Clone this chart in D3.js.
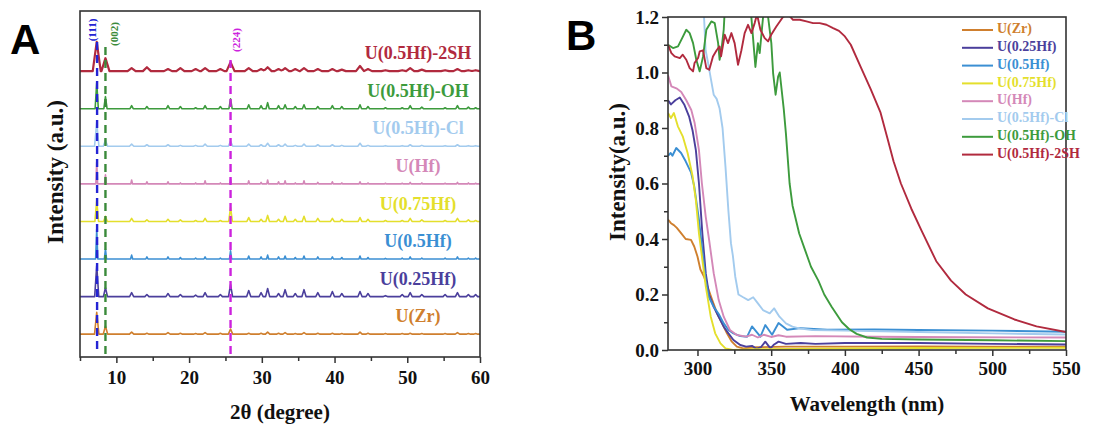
<!DOCTYPE html>
<html><head><meta charset="utf-8">
<script src="https://cdn.jsdelivr.net/npm/d3@7"></script>
<style>
body{margin:0;background:#fff;}
svg text{font-family:"Liberation Serif","Times New Roman",serif !important;font-weight:bold;}
svg text.panel{font-family:"Liberation Sans",Arial,sans-serif !important;}
</style></head><body>
<svg id="c" width="1102" height="425" font-family="Liberation Serif"></svg>
<script>
// ---------- DATA ----------
const seriesNames = ["U(Zr)","U(0.25Hf)","U(0.5Hf)","U(0.75Hf)","U(Hf)","U(0.5Hf)-Cl","U(0.5Hf)-OH","U(0.5Hf)-2SH"];
const seriesColors = ["#cf7f2e","#4b3f9c","#3b8fd3","#e4df2c","#d488b8","#a3cbee","#3d9b3d","#b12a3e"];

// Panel A: XRD peak positions (2θ) and heights per pattern (a.u.)
const peakPos = [7.3, 8.5, 12.1, 14.2, 17.1, 18.8, 20.9, 22.2, 24.3, 25.7, 28.2, 29.9, 30.8, 32.3, 33.2, 34.6, 35.8, 37.7, 39.7, 41.0, 43.5, 44.6, 47.0, 49.3, 50.4, 52.0, 55.2, 56.9, 58.4, 59.4];
const xrdZr    = [73, 27, 7, 3, 5, 3, 2, 5, 3, 17, 3, 3, 7, 3, 5, 2, 5, 3, 3, 2, 7, 3, 2, 2, 3, 2, 2, 5, 2, 2];
const xrd025Hf = [103, 30, 13, 7, 10, 7, 5, 13, 7, 40, 20, 13, 27, 10, 23, 10, 23, 13, 17, 10, 17, 10, 3, 7, 13, 7, 7, 13, 7, 7];
const xrd05Hf  = [100, 33, 13, 7, 7, 5, 3, 7, 3, 27, 10, 7, 13, 7, 10, 5, 10, 7, 7, 5, 10, 5, 2, 3, 7, 3, 3, 7, 3, 3];
const xrd075Hf = [70, 17, 10, 5, 7, 5, 3, 10, 3, 47, 13, 7, 20, 7, 17, 7, 17, 10, 10, 7, 13, 7, 3, 3, 10, 5, 3, 10, 5, 3];
const xrdHf    = [73, 30, 13, 7, 7, 3, 3, 10, 3, 17, 10, 5, 13, 7, 10, 3, 10, 5, 7, 3, 7, 3, 2, 2, 5, 3, 2, 5, 3, 2];
const xrdCl    = [80, 20, 7, 5, 5, 3, 3, 7, 3, 17, 7, 5, 10, 5, 7, 3, 7, 5, 5, 3, 10, 3, 2, 2, 5, 3, 2, 5, 2, 2];
const xrdOH    = [87, 40, 10, 7, 10, 7, 3, 10, 7, 33, 13, 10, 20, 10, 13, 7, 13, 7, 10, 7, 13, 7, 3, 3, 10, 5, 3, 10, 5, 3];
const xrd2SH   = [97, 43, 10, 13, 7, 10, 7, 10, 7, 30, 10, 7, 13, 7, 10, 7, 10, 7, 7, 5, 17, 7, 3, 3, 10, 5, 3, 7, 3, 3];
const refLines = [{pos:7.35, label:"(111)"}, {pos:8.5, label:"(002)"}, {pos:25.7, label:"(224)"}];
const xTicksA = [10,20,30,40,50,60];

// Panel B: UV-vis spectra [wavelength nm, intensity]
const uvZr = [[280,0.47],[282,0.457],[284,0.45],[286,0.44],[289,0.42],[292,0.40],[295.6,0.397],[297.8,0.373],[300,0.337],[302,0.29],[304.4,0.265],[306.7,0.23],[310,0.18],[313.3,0.132],[316.7,0.096],[320,0.06],[323.3,0.03],[326.7,0.012],[331,0.006],[340,0.01],[360,0.012],[400,0.012],[450,0.013],[500,0.012],[550,0.012]];
const uv025Hf = [[280,0.90],[282,0.885],[285,0.90],[288,0.91],[291,0.885],[294.4,0.84],[296.7,0.79],[298.9,0.72],[301,0.6],[303.3,0.42],[305.6,0.277],[307.8,0.2],[311,0.156],[314.4,0.12],[317.8,0.084],[321,0.06],[324.4,0.036],[329,0.018],[333,0.012],[337,0.015],[340,0.004],[343,0.01],[346,0.03],[349.5,0.006],[352,0.02],[355,0.03],[360,0.022],[370,0.025],[380,0.022],[400,0.025],[450,0.025],[500,0.022],[550,0.02]];
const uv05Hf = [[280,0.70],[281.8,0.71],[283,0.70],[285.6,0.728],[288.9,0.71],[292,0.68],[295.6,0.64],[297.8,0.59],[301,0.47],[303.3,0.36],[305.6,0.25],[307.8,0.19],[311,0.156],[314.4,0.13],[317.8,0.096],[321,0.072],[324.4,0.06],[329,0.05],[333.7,0.048],[337,0.085],[342.7,0.048],[346,0.09],[350.6,0.055],[355,0.097],[360.8,0.073],[370,0.079],[388,0.073],[420,0.074],[450,0.072],[500,0.07],[550,0.066]];
const uv075Hf = [[280,0.854],[282,0.836],[284,0.854],[286.7,0.806],[290,0.77],[293.3,0.71],[296.7,0.626],[298.9,0.54],[301,0.42],[303.3,0.325],[305.6,0.23],[309,0.12],[312,0.06],[315.6,0.024],[319,0.006],[324,0.0],[340,0.003],[380,0.005],[450,0.007],[550,0.008]];
const uvHf = [[280,0.99],[282.3,0.95],[285.7,0.943],[289,0.93],[292.4,0.9],[295.8,0.865],[298,0.82],[301,0.72],[303,0.6],[305.6,0.48],[307.8,0.4],[311,0.277],[314.4,0.18],[317.8,0.12],[322,0.072],[326.7,0.054],[333,0.048],[337,0.055],[341,0.045],[345,0.055],[350,0.047],[355,0.053],[360,0.048],[380,0.05],[420,0.048],[480,0.046],[550,0.045]];
const uvCl = [[304,1.25],[305.5,1.08],[307,1.04],[309,0.98],[311,0.92],[313,0.905],[315,0.87],[317,0.80],[319,0.66],[321,0.5],[322.7,0.385],[324,0.34],[325.6,0.265],[327.8,0.2],[331,0.19],[334.4,0.18],[337.8,0.19],[341,0.168],[344.4,0.144],[349,0.132],[352,0.15],[355.6,0.12],[360,0.096],[364.4,0.084],[369,0.078],[377.8,0.072],[400,0.07],[450,0.065],[500,0.06],[550,0.056]];
const uvOH = [[280,1.10],[283.4,1.088],[286.8,1.094],[290.2,1.13],[292.4,1.154],[294.7,1.142],[297,1.106],[299.2,1.046],[301.5,1.004],[303.8,1.058],[306,1.154],[309.4,1.184],[311.7,1.178],[314,1.106],[315,1.046],[316.2,1.08],[317.8,1.154],[318.5,1.226],[320,1.26],[335,1.26],[336.6,1.196],[339.3,1.02],[341,1.106],[342.2,1.07],[344.5,1.2],[346,1.26],[347,1.26],[347.9,1.2],[350.1,1.106],[351.3,0.998],[353,0.92],[354.7,0.985],[355.8,1.0],[358.5,0.87],[360,0.78],[362.5,0.6],[364.5,0.52],[369,0.42],[373,0.36],[377,0.3],[382,0.25],[386,0.2],[391,0.156],[398,0.1],[403,0.075],[408,0.058],[415,0.045],[425,0.04],[450,0.038],[500,0.035],[550,0.032]];
const uv2SH = [[280,1.10],[282.3,1.07],[284.5,1.058],[288,1.052],[290,1.064],[292.4,1.046],[294.7,1.016],[297,1.004],[298,1.034],[300.4,1.052],[301.5,1.076],[303.8,1.08],[306,1.016],[308,1.01],[310.5,1.058],[313,1.08],[315,1.094],[316,1.058],[318.5,1.136],[320.7,1.106],[323,1.142],[325.2,1.106],[327.5,1.028],[329.8,1.08],[332,1.142],[334.3,1.172],[336.6,1.142],[338.8,1.178],[340.4,1.21],[342.7,1.154],[345.6,1.124],[347.9,1.112],[350,1.136],[353.5,1.166],[358,1.2],[361.4,1.21],[364.8,1.19],[369.4,1.19],[373.9,1.184],[378.4,1.178],[382.9,1.178],[387.5,1.172],[392,1.16],[396,1.15],[400,1.13],[404,1.10],[410.7,1.02],[417.5,0.94],[424.2,0.855],[429,0.76],[433,0.68],[438,0.6],[445,0.51],[452,0.43],[462,0.32],[472,0.25],[482,0.2],[497,0.15],[515,0.11],[530,0.085],[550,0.065]];
const xTicksB = [300,350,400,450,500,550];
const yTicksB = [0,0.2,0.4,0.6,0.8,1.0,1.2];

const xrdData = [xrdZr, xrd025Hf, xrd05Hf, xrd075Hf, xrdHf, xrdCl, xrdOH, xrd2SH];
const uvData = [uvZr, uv025Hf, uv05Hf, uv075Hf, uvHf, uvCl, uvOH, uv2SH];

// ---------- STYLE ----------
const peakHalfWidth = [0.3, 0.28, 0.15, 0.25, 0.12, 0.3, 0.22, 0.55];
const stackStep = 125;
const refColors = ["#2424d4","#3a8a3a","#cc22dd"];
const axisColor = "#333";
const SERIF = "'Liberation Serif', 'Times New Roman', serif";

const svg = d3.select("#c");

// ---------- PANEL A ----------
const xA = d3.scaleLinear().domain([5,60]).range([80,480]);
const yA = d3.scaleLinear().domain([-76,1075]).range([357,11]);

function profile(h, w) {
  const xs = new Set([5,60]);
  peakPos.forEach(p => { xs.add(p-w); xs.add(p); xs.add(p+w); });
  return Array.from(xs).filter(x=>x>=5&&x<=60).sort((a,b)=>a-b)
    .map(x => [x, d3.sum(peakPos, (p,i) => Math.max(0, h[i]*(1-Math.abs(x-p)/w)))]);
}

const gA = svg.append("g");
xrdData.forEach((h,i) => {
  const off = i*stackStep;
  const line = d3.line().x(d=>xA(d[0])).y(d=>yA(d[1]+off));
  gA.append("path").attr("d", line(profile(h, peakHalfWidth[i])))
    .attr("fill","none").attr("stroke",seriesColors[i])
    .attr("stroke-width", i===7 ? 2.2 : 1.6).attr("stroke-linejoin","round");
  gA.append("text").attr("x",418).attr("y",yA(off)-16)
    .attr("text-anchor","middle").attr("dominant-baseline","middle")
    .attr("font-size",18).attr("fill",seriesColors[i]).text(seriesNames[i]);
});

// reference dashed lines
const refTop = [42, 47, 60], refBot = [351, 356, 354], labOff = [-4, 10, 7], labY = [30, 34, 40];
refLines.forEach((r,k) => {
  gA.append("line").attr("x1",xA(r.pos)).attr("x2",xA(r.pos))
    .attr("y1",refTop[k]).attr("y2",refBot[k])
    .attr("stroke",refColors[k]).attr("stroke-width",2.4).attr("stroke-dasharray","8,5");
  gA.append("text").attr("transform",`translate(${xA(r.pos)+labOff[k]},${labY[k]}) rotate(-90)`)
    .attr("text-anchor","middle").attr("dominant-baseline","middle")
    .attr("font-size",11).attr("fill",refColors[k]).text(r.label);
});

// frame & axis
gA.append("rect").attr("x",80).attr("y",11).attr("width",400).attr("height",346)
  .attr("fill","none").attr("stroke",axisColor).attr("stroke-width",1.6);
const axA = gA.append("g").attr("transform","translate(0,357)")
  .call(d3.axisBottom(xA).tickValues(xTicksA).tickSize(6).tickPadding(8).tickFormat(d3.format("d")));
const axA2 = gA.append("g").attr("transform","translate(0,357)")
  .call(d3.axisBottom(xA).tickValues([5,15,25,35,45,55]).tickSize(4).tickFormat(""));
[axA, axA2].forEach(a => { a.attr("font-family",SERIF); a.select(".domain").remove(); a.selectAll("line").attr("stroke",axisColor).attr("stroke-width",1.5); });
axA.selectAll("text").attr("font-size",19).attr("fill","#111").style("font-family",SERIF).style("font-weight","bold");
gA.append("text").attr("x",280).attr("y",419).attr("text-anchor","middle").attr("font-size",21).attr("fill","#111").text("2θ (degree)");
gA.append("text").attr("transform","translate(58,172) rotate(-90)").attr("text-anchor","middle")
  .attr("dominant-baseline","middle").attr("font-size",23).attr("fill","#111").text("Intensity (a.u.)");
svg.append("text").attr("class","panel").attr("x",10).attr("y",54).attr("font-size",42)
  .attr("fill","#000").text("A");

// ---------- PANEL B ----------
const xB = d3.scaleLinear().domain([280,550]).range([668,1066]);
const yB = d3.scaleLinear().domain([0,1.2]).range([350,17]);
const gB = svg.append("g");
svg.append("defs").append("clipPath").attr("id","clipB").append("rect")
  .attr("x",668).attr("y",17).attr("width",398).attr("height",333);
const lineB = d3.line().x(d=>xB(d[0])).y(d=>yB(d[1]));
const gLines = gB.append("g").attr("clip-path","url(#clipB)");
uvData.forEach((d,i) => {
  gLines.append("path").attr("d",lineB(d)).attr("fill","none")
    .attr("stroke",seriesColors[i]).attr("stroke-width",1.9).attr("stroke-linejoin","round");
});
gB.append("rect").attr("x",668).attr("y",17).attr("width",398).attr("height",333)
  .attr("fill","none").attr("stroke",axisColor).attr("stroke-width",1.6);
const axBx = gB.append("g").attr("transform","translate(0,350)")
  .call(d3.axisBottom(xB).tickValues(xTicksB).tickSize(6).tickPadding(6).tickFormat(d3.format("d")));
const axBx2 = gB.append("g").attr("transform","translate(0,350)")
  .call(d3.axisBottom(xB).tickValues([325,375,425,475,525]).tickSize(4).tickFormat(""));
const axBy = gB.append("g").attr("transform","translate(668,0)")
  .call(d3.axisLeft(yB).tickValues(yTicksB).tickSize(6).tickPadding(3).tickFormat(d3.format(".1f")));
const axBy2 = gB.append("g").attr("transform","translate(668,0)")
  .call(d3.axisLeft(yB).tickValues([0.1,0.3,0.5,0.7,0.9,1.1]).tickSize(4).tickFormat(""));
[axBx, axBx2, axBy, axBy2].forEach(a => { a.attr("font-family",SERIF); a.select(".domain").remove(); a.selectAll("line").attr("stroke",axisColor).attr("stroke-width",1.5); });
[axBx, axBy].forEach(a => a.selectAll("text").attr("font-size",19).attr("fill","#111").style("font-family",SERIF).style("font-weight","bold"));
gB.append("text").attr("x",867).attr("y",411).attr("text-anchor","middle").attr("font-size",21).attr("fill","#111").text("Wavelength (nm)");
gB.append("text").attr("transform","translate(620,172) rotate(-90)").attr("text-anchor","middle")
  .attr("dominant-baseline","middle").attr("font-size",23).attr("fill","#111").text("Intensity(a.u.)");
svg.append("text").attr("class","panel").attr("x",566).attr("y",50).attr("font-size",42)
  .attr("fill","#000").text("B");

// legend
const leg = gB.append("g");
seriesNames.forEach((n,i) => {
  const y = 30 + i*17.8;
  leg.append("line").attr("x1",962).attr("x2",993).attr("y1",y).attr("y2",y)
    .attr("stroke",seriesColors[i]).attr("stroke-width",2);
  leg.append("text").attr("x",997).attr("y",y).attr("dominant-baseline","middle")
    .attr("font-size",14).attr("fill",seriesColors[i]).text(n);
});
</script></body></html>
